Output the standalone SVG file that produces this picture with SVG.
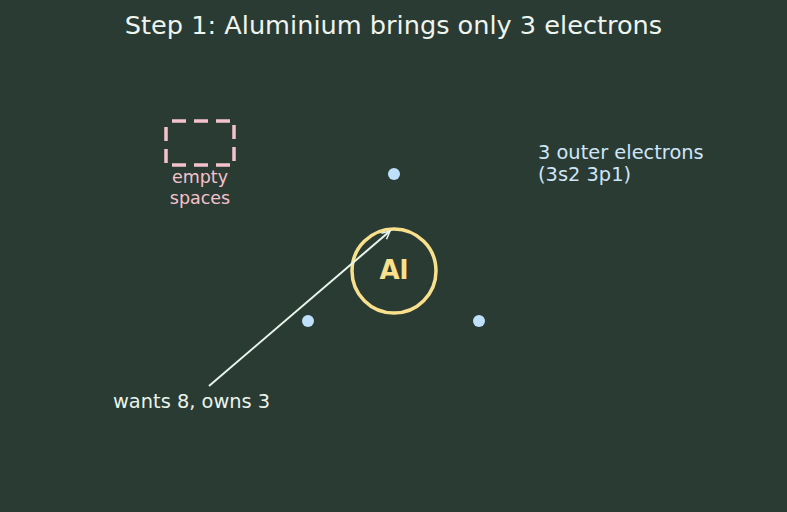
<svg xmlns="http://www.w3.org/2000/svg" width="787" height="512" viewBox="0 0 787 512">
<style>
text{font-family:"DejaVu Sans","Liberation Sans",sans-serif}
.title{font-size:25.6px;fill:#eef4ee}
.lbl{font-size:19.4px}
.e{fill:#bfe0fb}
</style>
<defs>
<marker id="ah" viewBox="0 0 10 10" refX="9" refY="5" markerWidth="10" markerHeight="10" markerUnits="userSpaceOnUse" orient="auto">
<path d="M1,1 L9,5 L1,9" fill="none" stroke="#e8f4ea" stroke-width="1.5"/>
</marker>
</defs>
<rect width="787" height="512" fill="#2a3b34"/>
<text class="title" x="393.5" y="34" text-anchor="middle">Step 1: Aluminium brings only 3 electrons</text>
<g id="empty">
<rect x="166" y="121" width="68" height="44" fill="none" stroke="#f4c2cc" stroke-width="3.5" stroke-dasharray="14,8" stroke-dashoffset="-6"/>
<text x="200" y="183" text-anchor="middle" font-size="17.5" fill="#f4c2cc">empty</text>
<text x="200" y="204" text-anchor="middle" font-size="17.5" fill="#f4c2cc">spaces</text>
</g>
<g id="al">
<circle cx="394" cy="271" r="42" fill="none" stroke="#f9e08c" stroke-width="3.5"/>
<text x="394" y="279" text-anchor="middle" font-size="26" font-weight="bold" fill="#f9e08c">Al</text>
</g>
<g id="electrons">
<circle class="e" cx="394" cy="174" r="6"/>
<circle class="e" cx="308" cy="321" r="6"/>
<circle class="e" cx="479" cy="321" r="6"/>
</g>
<g id="note">
<text class="lbl" x="538" y="159" fill="#cfe6f8">3 outer electrons</text>
<text class="lbl" x="538" y="181" fill="#cfe6f8">(3s2 3p1)</text>
</g>
<g id="wants">
<text class="lbl" x="113" y="408" fill="#e8f4ea">wants 8, owns 3</text>
</g>
<g id="connectors">
<line x1="209" y1="386" x2="390" y2="231" stroke="#e8f4ea" stroke-width="2" marker-end="url(#ah)"/>
</g>
</svg>
